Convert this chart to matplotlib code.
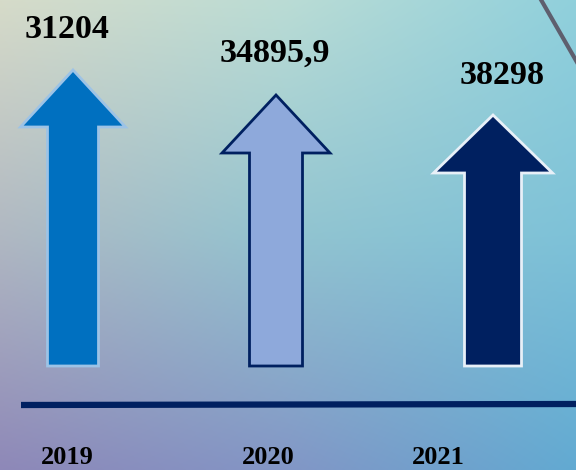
import numpy as np
import matplotlib.pyplot as plt
from matplotlib.patches import Polygon

years = ['2019', '2020', '2021']
values = ['31204', '34895,9', '38298']
# arrow tip heights as drawn on the slide (pixels from top)
arrow_tops = [70, 95, 115]
fill_colors = ['#0070C0', '#8EA9DB', '#002060']
edge_colors = ['#9DC3E6', '#002060', '#E8F0F8']

W, H = 576, 470
fig = plt.figure(figsize=(W / 100, H / 100), dpi=100)
ax = fig.add_axes([0, 0, 1, 1])
ax.set_xlim(0, W)
ax.set_ylim(H, 0)
ax.axis('off')

# background gradient, 3x3 control colours interpolated
def hex2rgb(h):
  return np.array([int(h[i:i + 2], 16) for i in (1, 3, 5)]) / 255.0
grid = [['#d6dbc9', '#badcd5', '#90d0dc'],
        ['#b0b8c2', '#92c4d0', '#7ec2d8'],
        ['#8e88b8', '#8296c6', '#62aad2']]
ctrl = np.array([[hex2rgb(c) for c in row] for row in grid])
n = 240
s = np.linspace(0, 2, n)
i0 = np.minimum(s.astype(int), 1)
f = s - i0
rows = ctrl[i0] * (1 - f)[:, None, None] + ctrl[i0 + 1] * f[:, None, None]
bg = rows[:, i0] * (1 - f)[None, :, None] + rows[:, i0 + 1] * f[None, :, None]
ax.imshow(bg, extent=[0, W, H, 0], aspect='auto', zorder=0, interpolation='bilinear')

# thin diagonal line top right
ax.plot([540, 578], [-2, 64], color='#5e5f6e', lw=3, zorder=1)

centers = [73, 276, 493]
head_w = [105, 108, 119]
shaft_w = [51, 53, 57]
head_h = [57, 58, 58]
bottom = 366
for i in range(3):
  c, t = centers[i], arrow_tops[i]
  hb = t + head_h[i]
  pts = [(c, t), (c + head_w[i] / 2, hb), (c + shaft_w[i] / 2, hb),
         (c + shaft_w[i] / 2, bottom), (c - shaft_w[i] / 2, bottom),
         (c - shaft_w[i] / 2, hb), (c - head_w[i] / 2, hb)]
  ax.add_patch(Polygon(pts, closed=True, facecolor=fill_colors[i],
                       edgecolor=edge_colors[i], lw=2, joinstyle='miter', zorder=2))

# value labels
val_pos = [(67, 30), (275, 53), (502, 75)]
for (x, y), s in zip(val_pos, values):
  ax.text(x, y, s, ha='center', va='center', fontsize=24.5, fontweight='bold',
          family='Liberation Serif', color='black', zorder=3)

# baseline
ax.plot([21, W], [405, 404], color='#002060', lw=4.5, solid_capstyle='butt', zorder=2)

year_x = [67, 268, 438]
for x, s in zip(year_x, years):
  ax.text(x, 457, s, ha='center', va='center', fontsize=19, fontweight='bold',
          family='Liberation Serif', color='black', zorder=3)

fig.savefig('out.png', dpi=100)
